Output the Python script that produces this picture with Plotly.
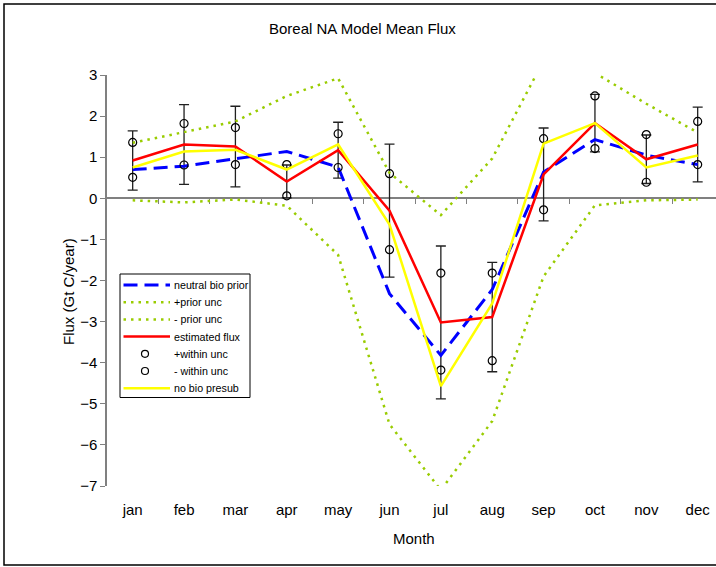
import plotly.graph_objects as go

months = ['jan', 'feb', 'mar', 'apr', 'may', 'jun', 'jul', 'aug', 'sep', 'oct', 'nov', 'dec']
neutral_bio_prior = [0.70, 0.78, 0.96, 1.14, 0.76, -2.32, -3.82, -2.22, 0.64, 1.43, 1.05, 0.82]
plus_prior_unc = [1.35, 1.61, 1.87, 2.49, 2.92, 0.62, -0.41, 0.97, 3.35, 3.05, 2.30, 1.60]
minus_prior_unc = [-0.05, -0.10, -0.03, -0.18, -1.38, -5.50, -7.10, -5.42, -1.90, -0.17, -0.05, -0.03]
estimated_flux = [0.92, 1.31, 1.26, 0.41, 1.17, -0.30, -3.02, -2.89, 0.58, 1.83, 0.95, 1.31]
estimated_err = [0.72, 0.97, 0.98, 0.40, 0.68, 1.62, 1.86, 1.33, 1.13, 0.70, 0.59, 0.91]
plus_within_unc = [1.36, 1.82, 1.72, 0.82, 1.57, 0.60, -1.82, -1.82, 1.45, 2.49, 1.55, 1.87]
minus_within_unc = [0.51, 0.81, 0.82, 0.06, 0.75, -1.25, -4.18, -3.95, -0.28, 1.21, 0.39, 0.82]
no_bio_presub = [0.75, 1.14, 1.18, 0.70, 1.31, -0.64, -4.57, -2.56, 1.33, 1.83, 0.75, 1.04]

legend_labels = ['neutral bio prior', '+prior unc', '- prior unc', 'estimated flux',
                 '+within unc', '- within unc', 'no bio presub']

xi = list(range(len(months)))
FONT = "Liberation Sans, Arial, sans-serif"
W, H = 716, 567
L, T, B = 107, 75, 81
PW, PH = W - L, H - T - B

def px_x(p):
    return (p - L) / PW

def px_y(p):
    return (H - B - p) / PH

BLUE = dict(color='#0000FF', width=3, dash='14px,7px')
GREEN = dict(color='#99CC00', width=2.5, dash='2.5px,5px')
RED = dict(color='#FF0000', width=2.5)
YELLOW = dict(color='#FFFF00', width=2.5)

fig = go.Figure()

# error bars of the estimated flux (drawn first, beneath lines)
fig.add_trace(go.Scatter(
    x=xi, y=estimated_flux, mode='markers', showlegend=False, hoverinfo='skip',
    marker=dict(size=1, color='rgba(0,0,0,0)'),
    error_y=dict(type='data', array=estimated_err, visible=True,
                 color='#202020', thickness=1.3, width=5)))

fig.add_trace(go.Scatter(x=xi, y=neutral_bio_prior, mode='lines', name=legend_labels[0], line=BLUE))
fig.add_trace(go.Scatter(x=xi, y=plus_prior_unc, mode='lines', name=legend_labels[1], line=GREEN))
fig.add_trace(go.Scatter(x=xi, y=minus_prior_unc, mode='lines', name=legend_labels[2], line=GREEN))
fig.add_trace(go.Scatter(x=xi, y=estimated_flux, mode='lines', name=legend_labels[3], line=RED))
circ = dict(symbol='circle-open', size=8, color='#000000', line=dict(width=1.2, color='#000000'))
fig.add_trace(go.Scatter(x=xi, y=plus_within_unc, mode='markers', name=legend_labels[4], marker=circ))
fig.add_trace(go.Scatter(x=xi, y=minus_within_unc, mode='markers', name=legend_labels[5], marker=circ))
fig.add_trace(go.Scatter(x=xi, y=no_bio_presub, mode='lines', name=legend_labels[6], line=YELLOW))

# helper trace for the zero axis line
fig.add_trace(go.Scatter(x=[0], y=[0], xaxis='x2', mode='markers', showlegend=False,
                         hoverinfo='skip', marker=dict(size=1, color='rgba(0,0,0,0)')))

xmax = -0.5 + (W - L) / ((698 - 133) / 11)

# custom legend (box, samples, labels)
shapes = [dict(type='rect', xref='paper', yref='paper',
               x0=px_x(4), x1=px_x(760), y0=px_y(565), y1=px_y(4),
               line=dict(color='#000000', width=1.5), layer='below'),
          dict(type='rect', xref='paper', yref='paper',
               x0=px_x(120), x1=px_x(250), y0=px_y(397.5), y1=px_y(274),
               line=dict(color='#000000', width=1), fillcolor='white', layer='above')]
annotations = []
styles = [BLUE, GREEN, GREEN, RED, None, None, YELLOW]
row_y0, row_dy = 285, 17.2
for k, (lab, st) in enumerate(zip(legend_labels, styles)):
    yy = row_y0 + k * row_dy
    if st is not None:
        shapes.append(dict(type='line', xref='paper', yref='paper',
                           x0=px_x(123.5), x1=px_x(170), y0=px_y(yy), y1=px_y(yy),
                           line=st, layer='above'))
    else:
        shapes.append(dict(type='circle', xref='paper', yref='paper',
                           xsizemode='pixel', ysizemode='pixel',
                           xanchor=px_x(145), yanchor=px_y(yy),
                           x0=-3.5, x1=3.5, y0=-3.5, y1=3.5,
                           line=dict(color='#000000', width=1.2), layer='above'))
    annotations.append(dict(text=lab, xref='paper', yref='paper', x=px_x(172), y=px_y(yy),
                            xanchor='left', yanchor='middle', showarrow=False,
                            font=dict(size=10.7, family=FONT)))

annotations += [
    dict(text='Boreal NA Model Mean Flux', xref='paper', yref='paper',
         x=px_x(362), y=px_y(28), xanchor='center', yanchor='middle',
         showarrow=False, font=dict(size=15)),
    dict(text='Month', xref='paper', yref='paper', x=px_x(414), y=px_y(538),
         xanchor='center', yanchor='middle', showarrow=False, font=dict(size=15)),
    dict(text='Flux (Gt C/year)', xref='paper', yref='paper', x=px_x(68),
         y=px_y(292), xanchor='center', yanchor='middle', textangle=-90,
         showarrow=False, font=dict(size=15)),
]

fig.update_layout(
    width=W, height=H, autosize=False,
    margin=dict(l=L, r=0, t=T, b=B),
    paper_bgcolor='white', plot_bgcolor='white',
    font=dict(family=FONT, size=15, color='#000000'),
    showlegend=False,
    xaxis=dict(range=[-0.5, xmax], tickmode='array', tickvals=xi, ticktext=months,
               showgrid=False, zeroline=False, showline=False, ticks='',
               ticklabelstandoff=13, tickfont=dict(size=15), fixedrange=True),
    xaxis2=dict(range=[-0.5, xmax], overlaying='x', anchor='free', position=0.7,
                side='bottom', showgrid=False, zeroline=False, showline=True,
                linecolor='#808080', linewidth=2, ticks='outside', ticklen=5,
                tickwidth=1.3, tickcolor='#808080',
                tickvals=[k + 0.5 for k in range(11)], showticklabels=False,
                layer='below traces'),
    yaxis=dict(range=[-7, 3], dtick=1, tick0=0, showgrid=False, zeroline=False,
               showline=True, linecolor='#808080', linewidth=1.5, ticks='outside',
               ticklen=5, tickwidth=1.3, tickcolor='#808080', tickfont=dict(size=15),
               layer='below traces'),
    annotations=annotations,
    shapes=shapes,
)

fig.write_html('out.html')
